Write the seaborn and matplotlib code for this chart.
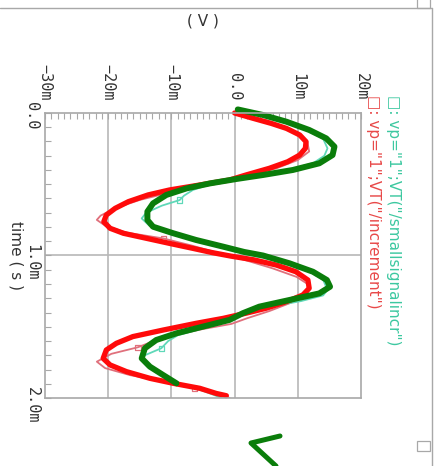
import matplotlib
matplotlib.use("Agg")
import matplotlib.pyplot as plt
import matplotlib.transforms as mtransforms
from matplotlib.lines import Line2D
from matplotlib.patches import Rectangle
import numpy as np
import pandas as pd
import seaborn as sns

# ---------------- data (time in ms, voltage in mV) ----------------
red_t = [0.000, 0.037, 0.073, 0.108, 0.154, 0.201, 0.248, 0.295, 0.342, 0.388, 0.435, 0.470,
         0.505, 0.540, 0.575, 0.622, 0.669, 0.716, 0.763, 0.809, 0.844, 0.880, 0.915, 0.950,
         0.980, 1.005, 1.030, 1.067, 1.114, 1.172, 1.230, 1.277, 1.324, 1.370, 1.405, 1.441,
         1.476, 1.523, 1.569, 1.616, 1.663, 1.722, 1.768, 1.815, 1.862, 1.897, 1.932, 1.968, 1.984]
red_v = [0.0, 2.9, 5.8, 8.2, 10.3, 11.3, 11.2, 10.3, 8.4, 5.5, 1.8, -0.8,
         -5.5, -10.3, -13.7, -16.8, -18.9, -20.3, -20.7, -19.7, -17.6, -13.9, -10.3, -6.6,
         -3.5, -0.5, 3.0, 6.6, 9.7, 11.6, 11.8, 10.8, 8.2, 5.0, 1.8, -1.8,
         -6.1, -11.3, -16.1, -18.7, -20.3, -20.8, -19.7, -17.1, -13.4, -9.7, -5.5, -2.9, -1.3]

green_t = [-0.025, 0.014, 0.061, 0.119, 0.178, 0.236, 0.295, 0.353, 0.400, 0.435, 0.463, 0.494,
           0.529, 0.575, 0.634, 0.692, 0.751, 0.798, 0.844, 0.891, 0.938, 0.975, 1.000, 1.055,
           1.114, 1.172, 1.219, 1.266, 1.312, 1.359, 1.405, 1.452, 1.499, 1.546, 1.593, 1.651,
           1.722, 1.780, 1.839, 1.897]
green_v = [0.5, 4.5, 8.2, 11.8, 14.5, 15.8, 15.5, 13.4, 9.2, 4.5, 0.3, -3.9,
           -7.6, -10.8, -12.9, -13.8, -13.8, -12.9, -9.7, -6.1, -1.8, 1.5, 4.5, 8.7,
           12.4, 14.6, 15.1, 13.4, 8.7, 3.9, 1.3, -0.8, -5.0, -9.2, -12.4, -14.2,
           -14.7, -13.4, -11.3, -9.2]

pink_t = [0.00, 0.05, 0.10, 0.15, 0.20, 0.27, 0.33, 0.39, 0.44, 0.50, 0.55, 0.61, 0.67, 0.72,
          0.75, 0.79, 0.84, 0.88, 0.93, 0.98, 1.03, 1.09, 1.15, 1.21, 1.27, 1.33, 1.39, 1.44,
          1.48, 1.52, 1.56, 1.60, 1.644, 1.69, 1.745, 1.79, 1.84, 1.89, 1.932, 1.97, 2.00]
pink_v = [0.0, 3.8, 7.8, 10.2, 11.5, 11.8, 10.0, 6.5, 1.5, -4.5, -9.5, -15.0, -19.0, -21.2,
          -21.8, -20.5, -17.0, -11.3, -6.8, -2.8, 1.5, 6.0, 9.8, 11.9, 11.5, 9.0, 5.5, 2.0,
          -0.5, -5.5, -9.5, -12.8, -15.3, -19.5, -21.8, -20.5, -16.5, -10.5, -6.3, -2.8, -0.8]

cyan_t = [0.00, 0.02, 0.06, 0.12, 0.18, 0.248, 0.30, 0.35, 0.40, 0.44, 0.47, 0.50, 0.54, 0.58,
          0.611, 0.65, 0.70, 0.74, 0.79, 0.84, 0.89, 0.94, 0.99, 1.05, 1.11, 1.17, 1.242, 1.28,
          1.32, 1.36, 1.41, 1.46, 1.51, 1.56, 1.60, 1.651, 1.70, 1.73, 1.78, 1.84, 1.90, 1.95, 2.00]
cyan_v = [0.5, 4.2, 7.8, 11.5, 14.0, 14.7, 14.2, 12.5, 8.5, 4.0, 0.3, -3.8, -6.6, -8.0,
          -8.7, -11.5, -14.0, -14.7, -13.5, -10.0, -6.2, -2.0, 1.8, 8.0, 11.8, 14.0, 14.7, 14.0,
          10.5, 5.5, 1.5, -1.0, -5.0, -9.0, -10.5, -11.6, -14.2, -14.8, -13.8, -11.3, -8.5, -5.0, -2.0]

pink_mark_t = [0.88, 1.644, 1.932]
pink_mark_v = [-11.3, -15.3, -6.3]
cyan_mark_t = [0.611, 1.651]
cyan_mark_v = [-8.7, -11.6]

x_ticks = [-30, -20, -10, 0, 10, 20]
x_labels = ["\u221230m", "\u221220m", "\u221210m", "0.0", "10m", "20m"]
y_ticks = [0.0, 1.0, 2.0]
y_labels = ["0.0", "1.0m", "2.0m"]
legend_labels = ['\u25a1: vp="1";VT("/smallsignalincr")',
                 '\u25a1: vp="1";VT("/increment")']

# ---------------- style ----------------
sns.set_theme(style="white")
plt.rcParams["font.family"] = ["DejaVu Sans"]

W, H = 441, 466
fig = plt.figure(figsize=(W / 100, H / 100), dpi=100)
fig.patch.set_facecolor("white")
ax = fig.add_axes([45 / W, 68 / H, 316 / W, 285 / H])

PINK = "#e0707c"
CYAN = "#5fd8b8"
RED = "#ff0a0a"
GREEN = "#0a7d0a"
FRAME = "#a8a8a8"
TXT = "#333333"

# thin simulator traces
sns.lineplot(x=pink_v, y=pink_t, sort=False, estimator=None, orient="y",
             color=PINK, lw=1.3, ax=ax)
sns.lineplot(x=cyan_v, y=cyan_t, sort=False, estimator=None, orient="y",
             color=CYAN, lw=1.3, ax=ax)
sns.scatterplot(x=pink_mark_v, y=pink_mark_t, marker="s", s=14, facecolor="none",
                edgecolor=PINK, linewidth=0.9, ax=ax)
sns.scatterplot(x=cyan_mark_v, y=cyan_mark_t, marker="s", s=14, facecolor="none",
                edgecolor=CYAN, linewidth=0.9, ax=ax)

# thick hand-drawn traces
sns.lineplot(x=red_v, y=red_t, sort=False, estimator=None, orient="y",
             color=RED, lw=3.8, ax=ax)
sns.lineplot(x=green_v, y=green_t, sort=False, estimator=None, orient="y",
             color=GREEN, lw=4.3, ax=ax)
for ln in ax.lines[-2:]:
    ln.set_solid_joinstyle("round")
    ln.set_solid_capstyle("round")
    ln.set_clip_on(False)

ax.set_xlim(-30, 20)
ax.set_ylim(2.0, 0.0)

# grid
ax.grid(False)
for xv in x_ticks[1:-1]:
    ax.axvline(xv, color="#b8b8b8", lw=1.2, zorder=0)
ax.axhline(1.0, color="#b8b8b8", lw=1.2, zorder=0)

for sp in ax.spines.values():
    sp.set_color(FRAME)
    sp.set_linewidth(1.2)

# x axis on top
ax.xaxis.tick_top()
ax.set_xticks(x_ticks)
ax.set_xticks(np.arange(-30, 21, 1), minor=True)
ax.set_xticklabels(x_labels, rotation=-90, rotation_mode="anchor", ha="right", va="center",
                   fontsize=11, family="DejaVu Sans Mono", color=TXT)
ax.tick_params(axis="x", which="both", direction="in", top=True, bottom=False,
               length=4, width=0.8, color=FRAME, pad=9)

# y axis ticks (labels drawn rotated)
ax.set_yticks(y_ticks)
ax.set_yticks(np.arange(0, 2.01, 0.1), minor=True)
ax.set_yticklabels([])
ax.tick_params(axis="y", which="both", direction="in", left=True, right=False,
               length=4, width=0.8, color=FRAME)
ytr = mtransforms.offset_copy(ax.get_yaxis_transform(), fig=fig, x=0, y=11, units="dots")
for tv, tl in zip(y_ticks, y_labels):
    ax.text((32 - 45) / 316, tv, tl, transform=ytr, rotation=-90, rotation_mode="anchor",
            ha="left", va="center", fontsize=11, family="DejaVu Sans Mono", color=TXT,
            clip_on=False)

ax.set_ylabel("time ( s )", rotation=-90, ha="center", va="center", fontsize=11, color=TXT)
ax.yaxis.set_label_coords((16 - 45) / 316, 0.5)
ax.xaxis.set_label_position("top")
ax.set_xlabel("( V )", fontsize=11, color=TXT, va="center")
ax.xaxis.set_label_coords(0.5, (H - 21 - 68) / 285)

# legend texts
fig.text(394 / W, (H - 95) / H, legend_labels[0], rotation=-90, rotation_mode="anchor",
         ha="left", va="center", fontsize=11, color="#3cc8a0")
fig.text(374 / W, (H - 95) / H, legend_labels[1], rotation=-90, rotation_mode="anchor",
         ha="left", va="center", fontsize=11, color="#e84848")

# window decorations
def P(x, y):
    return x / W, (H - y) / H

fig.add_artist(Line2D([0, 432 / W], [P(0, 8)[1]] * 2, color=FRAME, lw=1.0))
fig.add_artist(Line2D([432 / W] * 2, [P(0, 8)[1], 0], color=FRAME, lw=1.0))
for (bx, by) in [(417, -2), (417, 441)]:
    fig.add_artist(Rectangle(P(bx, by + 10), 13 / W, 10 / H, fill=False, ec=FRAME, lw=0.9,
                             transform=fig.transFigure))
gx, gy = zip(P(280, 436), P(251, 443), P(276, 466))
fig.add_artist(Line2D(gx, gy, color=GREEN, lw=3.6, solid_joinstyle="round",
                      solid_capstyle="round"))

fig.savefig("out.png", dpi=100)
